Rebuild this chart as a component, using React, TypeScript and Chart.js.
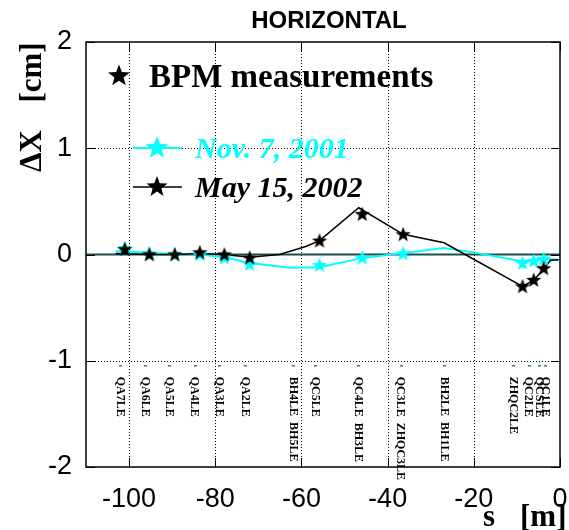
import React, { useEffect, useRef } from 'react';
import { Chart, registerables } from 'chart.js';

Chart.register(...registerables);

const SANS = '"Liberation Sans", Arial, sans-serif';
const SERIF = '"Liberation Serif", "Times New Roman", serif';

// axis ticks
const xTicks = [-100, -80, -60, -40, -20, 0];
const yTicks = [-2, -1, 0, 1, 2];

// BPM measurement positions [m] and values [cm]
const bpmS = [-101.0, -95.3, -89.4, -83.6, -77.9, -72.0, -55.8, -45.9, -36.4, -8.7, -6.1, -3.8];
const nov2001 = [0.06, 0.01, 0.0, 0.0, -0.03, -0.09, -0.1, -0.03, 0.01, -0.08, -0.06, -0.04];
const may2002 = [0.05, 0.0, 0.0, 0.02, 0.0, -0.03, 0.13, 0.38, 0.19, -0.3, -0.24, -0.13];

// fitted orbit lines
const novLineS = [-103.1, -101.0, -95.3, -89.4, -83.6, -77.9, -72.0, -62.7, -55.8, -46.0, -36.4, -26.9, -20.1, -8.7, -6.2, -3.9, -0.3];
const novLineV = [0.03, 0.03, 0.013, 0.007, 0.0, -0.025, -0.08, -0.125, -0.12, -0.034, 0.013, 0.06, 0.02, -0.066, -0.05, -0.04, -0.05];
const mayLineS = [-103.1, -95.3, -89.4, -83.6, -77.9, -72.0, -65.1, -59.0, -55.8, -46.7, -36.4, -26.9, -8.7, -6.0, -3.7, -2.2, -0.3];
const mayLineV = [0.01, 0.0, 0.0, 0.01, 0.0, -0.025, 0.0, 0.075, 0.13, 0.44, 0.19, 0.11, -0.3, -0.24, -0.13, -0.055, -0.05];

// lattice element labels
const elemLabels = ['QA7LE', 'QA6LE', 'QA5LE', 'QA4LE', 'QA3LE', 'QA2LE', 'BH4LE  BH5LE', 'QC5LE', 'QC4LE  BH3LE', 'QC3LE  ZHQC3LE', 'BH2LE  BH1LE', 'ZHQC2LE', 'QC2LE', 'QCSLE', 'QC1LE'];
const elemS = [-102.1, -96.35, -90.65, -84.8, -79.1, -73.0, -62.0, -56.8, -46.8, -37.0, -26.9, -10.9, -7.3, -4.8, -3.4];

function starPath(ctx: CanvasRenderingContext2D, cx: number, cy: number, r: number) {
  const ri = r * 0.42;
  ctx.beginPath();
  for (let i = 0; i < 10; i++) {
    const a = -Math.PI / 2 + (i * Math.PI) / 5;
    const rr = i % 2 === 0 ? r : ri;
    const px = cx + rr * Math.cos(a);
    const py = cy + rr * Math.sin(a);
    if (i === 0) ctx.moveTo(px, py);
    else ctx.lineTo(px, py);
  }
  ctx.closePath();
}

function makeStar(r: number, color: string) {
  const c = document.createElement('canvas');
  const s = Math.ceil(2 * r + 2);
  c.width = s;
  c.height = s;
  const ctx = c.getContext('2d')!;
  starPath(ctx, s / 2, s / 2 + 0.5, r);
  ctx.fillStyle = color;
  ctx.fill();
  return c;
}

const decor = {
  id: 'decor',
  beforeDatasetsDraw(chart: any) {
    const { ctx, chartArea: a, scales } = chart;
    const x = scales.x;
    const y = scales.y;
    ctx.save();
    // dotted grid
    ctx.strokeStyle = '#000';
    ctx.lineWidth = 1;
    ctx.setLineDash([1, 2]);
    xTicks.forEach((v) => {
      if (v <= x.min || v >= x.max) return;
      const px = Math.round(x.getPixelForValue(v)) + 0.5;
      ctx.beginPath();
      ctx.moveTo(px, a.top);
      ctx.lineTo(px, a.bottom);
      ctx.stroke();
    });
    yTicks.forEach((v) => {
      if (v <= y.min || v >= y.max || v === 0) return;
      const py = Math.round(y.getPixelForValue(v)) + 0.5;
      ctx.beginPath();
      ctx.moveTo(a.left, py);
      ctx.lineTo(a.right, py);
      ctx.stroke();
    });
    ctx.setLineDash([]);
    // zero line
    const y0 = y.getPixelForValue(0);
    ctx.strokeStyle = '#1d4d4d';
    ctx.lineWidth = 2;
    ctx.beginPath();
    ctx.moveTo(a.left, y0);
    ctx.lineTo(a.right, y0);
    ctx.stroke();
    // inward tick marks
    ctx.strokeStyle = '#000';
    ctx.lineWidth = 1;
    const tl = 9;
    xTicks.forEach((v) => {
      const px = Math.round(x.getPixelForValue(v)) + 0.5;
      ctx.beginPath();
      ctx.moveTo(px, a.bottom);
      ctx.lineTo(px, a.bottom - tl);
      ctx.moveTo(px, a.top);
      ctx.lineTo(px, a.top + tl);
      ctx.stroke();
    });
    yTicks.forEach((v) => {
      const py = Math.round(y.getPixelForValue(v)) + 0.5;
      ctx.beginPath();
      ctx.moveTo(a.left, py);
      ctx.lineTo(a.left + tl, py);
      ctx.moveTo(a.right, py);
      ctx.lineTo(a.right - tl, py);
      ctx.stroke();
    });
    // element labels
    const yLab = y.getPixelForValue(-1);
    ctx.fillStyle = '#2a8080';
    elemS.forEach((s) => {
      const px = x.getPixelForValue(s);
      ctx.fillRect(Math.round(px) - 1, Math.round(yLab) + 4, 3, 1.5);
    });
    ctx.fillStyle = '#000';
    ctx.font = `bold 12px ${SERIF}`;
    ctx.textAlign = 'left';
    ctx.textBaseline = 'middle';
    elemLabels.forEach((t, i) => {
      const px = x.getPixelForValue(elemS[i]);
      ctx.save();
      ctx.translate(px, yLab + 16);
      ctx.rotate(Math.PI / 2);
      ctx.fillText(t, 0, 0);
      ctx.restore();
    });
    ctx.restore();
  },
  afterDraw(chart: any) {
    const { ctx, chartArea: a } = chart;
    ctx.save();
    // frame
    ctx.strokeStyle = '#000';
    ctx.lineWidth = 1.5;
    ctx.strokeRect(a.left, a.top, a.right - a.left, a.bottom - a.top);
    // title
    ctx.fillStyle = '#000';
    ctx.font = `bold 24px ${SANS}`;
    ctx.textAlign = 'center';
    ctx.textBaseline = 'middle';
    ctx.fillText('HORIZONTAL', 329, 21);
    // y axis title
    ctx.font = `bold 31px ${SERIF}`;
    ctx.textBaseline = 'alphabetic';
    ctx.save();
    ctx.translate(41, 151);
    ctx.rotate(-Math.PI / 2);
    ctx.textAlign = 'center';
    ctx.fillText('\u0394X', 0, 0);
    ctx.restore();
    ctx.save();
    ctx.translate(41, 72.5);
    ctx.rotate(-Math.PI / 2);
    ctx.textAlign = 'center';
    ctx.fillText('[cm]', 0, 0);
    ctx.restore();
    // x axis title
    ctx.textAlign = 'left';
    ctx.fillText('s', 483, 526);
    ctx.fillText('[m]', 520, 526);
    // legend
    starPath(ctx, 119, 76, 11.5);
    ctx.fillStyle = '#000';
    ctx.fill();
    ctx.font = `bold 33px ${SERIF}`;
    ctx.fillText('BPM measurements', 149, 87);
    // Nov. 7, 2001
    ctx.strokeStyle = '#00ffff';
    ctx.lineWidth = 2;
    ctx.beginPath();
    ctx.moveTo(133, 148);
    ctx.lineTo(182, 148);
    ctx.stroke();
    starPath(ctx, 157, 148, 12);
    ctx.fillStyle = '#00ffff';
    ctx.fill();
    ctx.font = `italic bold 30px ${SERIF}`;
    ctx.fillText('Nov. 7, 2001', 195, 158);
    // May 15, 2002
    ctx.strokeStyle = '#000';
    ctx.lineWidth = 1.5;
    ctx.beginPath();
    ctx.moveTo(133, 187);
    ctx.lineTo(182, 187);
    ctx.stroke();
    starPath(ctx, 157, 187, 11);
    ctx.fillStyle = '#000';
    ctx.fill();
    ctx.fillText('May 15, 2002', 195, 197);
    ctx.restore();
  },
};

export default function App() {
  const ref = useRef<HTMLCanvasElement>(null);
  useEffect(() => {
    if (!ref.current) return;
    const blackStar = makeStar(8, '#000');
    const cyanStar = makeStar(8, '#00ffff');
    const chart = new Chart(ref.current, {
      type: 'line',
      data: {
        datasets: [
          {
            label: 'May 15, 2002',
            data: bpmS.map((s, i) => ({ x: s, y: may2002[i] })),
            showLine: false,
            pointStyle: blackStar as any,
            pointRadius: 8,
            order: 0,
          },
          {
            label: 'Nov. 7, 2001',
            data: bpmS.map((s, i) => ({ x: s, y: nov2001[i] })),
            showLine: false,
            pointStyle: cyanStar as any,
            pointRadius: 8,
            order: 1,
          },
          {
            label: 'May 15, 2002 fit',
            data: mayLineS.map((s, i) => ({ x: s, y: mayLineV[i] })),
            borderColor: '#000',
            borderWidth: 1.5,
            pointRadius: 0,
            tension: 0,
            order: 2,
          },
          {
            label: 'Nov. 7, 2001 fit',
            data: novLineS.map((s, i) => ({ x: s, y: novLineV[i] })),
            borderColor: '#00ffff',
            borderWidth: 2,
            pointRadius: 0,
            tension: 0,
            order: 3,
          },
        ],
      } as any,
      options: {
        animation: false,
        responsive: false,
        devicePixelRatio: 1,
        layout: { padding: { top: 42, right: 1, left: 0, bottom: 0 } },
        plugins: {
          legend: { display: false },
          title: { display: false },
          tooltip: { enabled: false },
        },
        scales: {
          x: {
            type: 'linear',
            min: -110,
            max: 0,
            grid: { display: false },
            border: { display: false },
            afterBuildTicks: (s: any) => {
              s.ticks = xTicks.map((v) => ({ value: v }));
            },
            afterFit: (s: any) => {
              s.height = 63;
              s.paddingLeft = 0;
              s.paddingRight = 0;
            },
            ticks: {
              font: { family: SANS, size: 27 },
              color: '#000',
              padding: 8,
              maxRotation: 0,
              autoSkip: false,
              callback: (v: any) => String(v),
            },
          },
          y: {
            type: 'linear',
            min: -2,
            max: 2,
            grid: { display: false },
            border: { display: false },
            afterBuildTicks: (s: any) => {
              s.ticks = yTicks.map((v) => ({ value: v }));
            },
            afterFit: (s: any) => {
              s.width = 86;
              s.paddingTop = 0;
              s.paddingBottom = 0;
            },
            ticks: {
              font: { family: SANS, size: 27 },
              color: '#000',
              padding: 6,
              callback: (v: any) => String(v),
            },
          },
        },
      } as any,
      plugins: [decor],
    });
    return () => chart.destroy();
  }, []);
  return (
    <div style={{ position: 'absolute', left: 0, top: 0, width: 569, height: 530, background: '#fff' }}>
      <canvas ref={ref} width={569} height={530} style={{ display: 'block' }} />
    </div>
  );
}
